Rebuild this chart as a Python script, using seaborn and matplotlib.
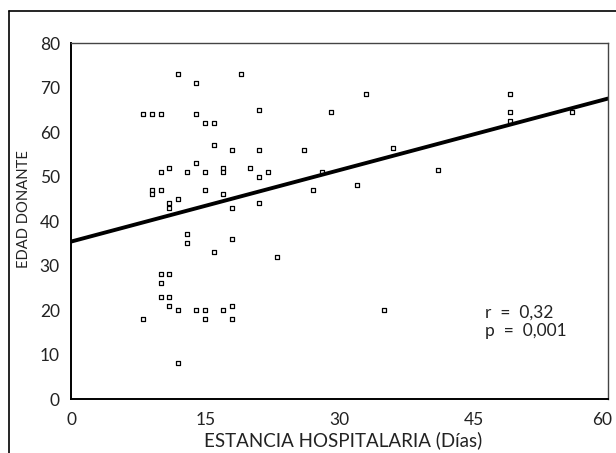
import pandas as pd
import seaborn as sns
import matplotlib.pyplot as plt
from matplotlib.lines import Line2D
from matplotlib.transforms import ScaledTranslation

sns.set_theme(style="white")
plt.rcParams["font.family"] = ["Lato", "DejaVu Sans"]

# stay in hospital (days) vs donor age
estancia = [12, 14, 8, 9, 10, 14, 15, 16, 16, 18, 14, 10, 11, 13, 15, 17, 17,
            9, 9, 10, 15, 17, 12, 11, 11, 18,
            19, 33, 21, 29, 21, 26, 36, 20, 22, 21, 28, 32, 27, 21,
            49, 49, 49, 56, 41,
            13, 13, 18, 16, 10, 11, 10, 10, 11, 11, 12, 14, 15, 17, 18,
            15, 18, 8, 12, 23, 35]
edad = [73, 71, 64, 64, 64, 64, 62, 62, 57, 56, 53, 51, 52, 51, 51, 52, 51,
        47, 46, 47, 47, 46, 45, 44, 43, 43,
        73, 68.5, 65, 64.5, 56, 56, 56.5, 52, 51, 50, 51, 48, 47, 44,
        68.5, 64.5, 62.5, 64.5, 51.5,
        37, 35, 36, 33, 28, 28, 26, 23, 23, 21, 20, 20, 20, 20, 21,
        18, 18, 18, 8, 32, 20]

x_ticks = [0, 15, 30, 45, 60]
y_ticks = [0, 10, 20, 30, 40, 50, 60, 70, 80]
stats_text = "r  =  0,32\np  =  0,001"

df = pd.DataFrame({"estancia": estancia, "edad": edad})

fig = plt.figure(figsize=(6.16, 4.53), dpi=100)
ax = fig.add_axes([0.1153, 0.1192, 0.8717, 0.7858])
ax.set_xlim(0, 60)
ax.set_ylim(0, 80)

sns.regplot(data=df, x="estancia", y="edad", ax=ax, ci=None, truncate=False,
            marker="s",
            scatter_kws=dict(s=10, facecolors="white", edgecolors="black",
                             linewidths=0.9, alpha=1),
            line_kws=dict(color="black", lw=2.8))

ax.set_xticks(x_ticks)
ax.set_yticks(y_ticks)
ax.tick_params(axis="both", direction="out", length=3, width=2, color="black",
               labelsize=12.5, labelcolor="#222222")
ax.tick_params(axis="y", pad=5)
ax.tick_params(axis="x", pad=6)

# keep the last x label inside the figure, like the scan
last = ax.get_xticklabels()[-1]
last.set_transform(last.get_transform() + ScaledTranslation(-4 / 72, 0, fig.dpi_scale_trans))

ax.set_xlabel("ESTANCIA HOSPITALARIA (Días)", fontsize=13.5, color="#222222")
ax.set_ylabel("EDAD DONANTE", fontsize=10.6, color="#222222")
ax.xaxis.set_label_coords(0.506, -0.133, transform=ax.transAxes)
ax.xaxis.label.set_va("baseline")
ax.yaxis.set_label_coords(-0.0875, 0.534, transform=ax.transAxes)
ax.yaxis.label.set_va("center")

for side in ["left", "bottom"]:
    ax.spines[side].set_color("black")
    ax.spines[side].set_linewidth(1.4)
for side in ["top", "right"]:
    ax.spines[side].set_color("#444444")
    ax.spines[side].set_linewidth(1.0)

ax.text(46.3, 17.4, stats_text, fontsize=12.5, color="#222222",
        va="center", ha="left", linespacing=1.2)

# outer frame of the scanned figure (top and left edges only)
fig.add_artist(Line2D([9 / 616, 1], [1 - 11 / 453, 1 - 11 / 453],
                      transform=fig.transFigure, color="black", lw=1.2))
fig.add_artist(Line2D([9 / 616, 9 / 616], [0, 1 - 11 / 453],
                      transform=fig.transFigure, color="black", lw=1.2))

fig.savefig("out.png", dpi=100)
